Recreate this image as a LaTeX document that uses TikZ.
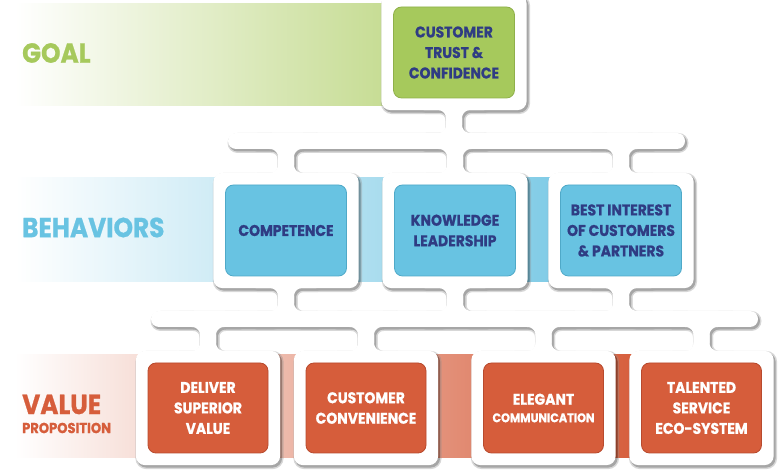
\documentclass[tikz,border=0pt]{standalone}
\usepackage{fontspec}
\newfontfamily\heavy{Poppins}[FakeStretch=0.9,BoldFeatures={FakeBold=0.8}]
\usepackage{tikz}
\usetikzlibrary{positioning,calc,fit,backgrounds}
\definecolor{Navy}{HTML}{2F3C83}
\definecolor{Lime}{HTML}{A6C95C}
\definecolor{LimeDark}{HTML}{8FB04A}
\definecolor{LimeBand}{HTML}{C6DC93}
\definecolor{Sky}{HTML}{68C3E2}
\definecolor{SkyDark}{HTML}{4FA9C8}
\definecolor{SkyBand}{HTML}{7FCBE6}
\definecolor{Rust}{HTML}{D65D3B}
\definecolor{RustDark}{HTML}{B84A2E}
\tikzset{
  card/.style={rectangle,rounded corners=8pt,minimum width=121pt,minimum height=91pt,inner sep=0pt,line width=.8pt,align=center,font=\heavy\bfseries\fontsize{15.5}{20.5}\selectfont},
  goalcard/.style={card,fill=Lime,draw=LimeDark,text=Navy},
  behcard/.style={card,fill=Sky,draw=SkyDark,text=Navy},
  valcard/.style={card,fill=Rust,draw=RustDark,text=white,minimum width=120pt,minimum height=90pt},
  holder/.style={inner sep=11.5pt},
  plate/.style={rounded corners=9pt},
  pipe/.style={line cap=round,rounded corners=16pt},
  heading/.style={anchor=west,inner sep=0pt,font=\heavy\bfseries\fontsize{27.5}{27.5}\selectfont}
}
% white holders and the pipes between them
\newcommand\plates[2]{%
  \foreach \b in {goal,comp,know,best,deliv,conv,eleg,talent}
    \path[plate,#1] (f\b.south west) rectangle (f\b.north east);
  \draw[pipe,#2] (topL) -- (topR);
  \draw[pipe,#2] (lowL) -- (lowR);
  \foreach \f/\a/\d/\bus in {goal/south/8/topL,comp/north/-8/topL,know/north/-8/topL,best/north/-8/topL,
      comp/south/8/lowL,know/south/8/lowL,best/south/8/lowL,
      deliv/north/-8/lowL,conv/north/-8/lowL,eleg/north/-8/lowL,talent/north/-8/lowL}
    \foreach \s in {-1,1}
      \draw[pipe,#2] ($(f\f.\a)+(\s*30,\d)$) -- ($(f\f.\a)+(0,\d)$) -- (f\f.\a |- \bus) -- ++(\s*30,0);
}
\begin{document}
\begin{tikzpicture}[x=1pt,y=1pt]
  \useasboundingbox (0,0) rectangle (782,476);
  % row headings
  \node[heading,text=Lime] (hgoal) at (22,423) {GOAL};
  \node[heading,text=Sky] (hbeh) at (22,248.5) {BEHAVIORS};
  \node[heading,text=Rust] (hval) at (22,71.5) {VALUE};
  \node[heading,text=Rust,font=\heavy\bfseries\fontsize{14.5}{14.5}\selectfont] (hprop) at (22,48) {PROPOSITION};
  % cards
  \node[goalcard] (goal) at (454,423.5) {CUSTOMER\\TRUST \&\\CONFIDENCE};
  \node[behcard] (comp) at (286,245.5) {COMPETENCE};
  \node[behcard] (know) at (455,245.5) {KNOWLEDGE\\LEADERSHIP};
  \node[behcard] (best) at (621,245.5) {BEST INTEREST\\OF CUSTOMERS\\\& PARTNERS};
  \node[valcard] (deliv) at (208,68) {DELIVER\\SUPERIOR\\VALUE};
  \node[valcard] (conv) at (366,68) {CUSTOMER\\CONVENIENCE};
  \node[valcard] (eleg) at (543.5,68) {ELEGANT\\[-3pt]{\fontsize{12.5}{15}\selectfont COMMUNICATION}};
  \node[valcard] (talent) at (701.5,68) {TALENTED\\SERVICE\\ECO-SYSTEM};
  \foreach \b in {goal,comp,know,best,deliv,conv,eleg,talent}
    \node[holder,fit=(\b)] (f\b) {};
  \coordinate (topL) at (236,335); \coordinate (topR) at (677,335);
  \coordinate (lowL) at (159,157); \coordinate (lowR) at (750,157);
  \begin{scope}[on background layer]
    \fill[left color=white,right color=LimeBand] (15,370) rectangle (388,472);
    \fill[left color=white,right color=SkyBand] (15,194) rectangle (560,298);
    \fill[left color=white,right color=Rust] (15,18) rectangle (640,121);
    % soft shadow
    \begin{scope}[transparency group,opacity=.35]
      \begin{scope}[transform canvas={xshift=1.5pt,yshift=-2pt}]
        \plates{fill=black!45,draw=black!45,line width=4pt}{draw=black!45,line width=20pt}
        \plates{fill=black,draw=black,line width=1pt}{draw=black,line width=17pt}
      \end{scope}
    \end{scope}
    \plates{fill=white}{draw=white,line width=16pt}
  \end{scope}
\end{tikzpicture}
\end{document}
